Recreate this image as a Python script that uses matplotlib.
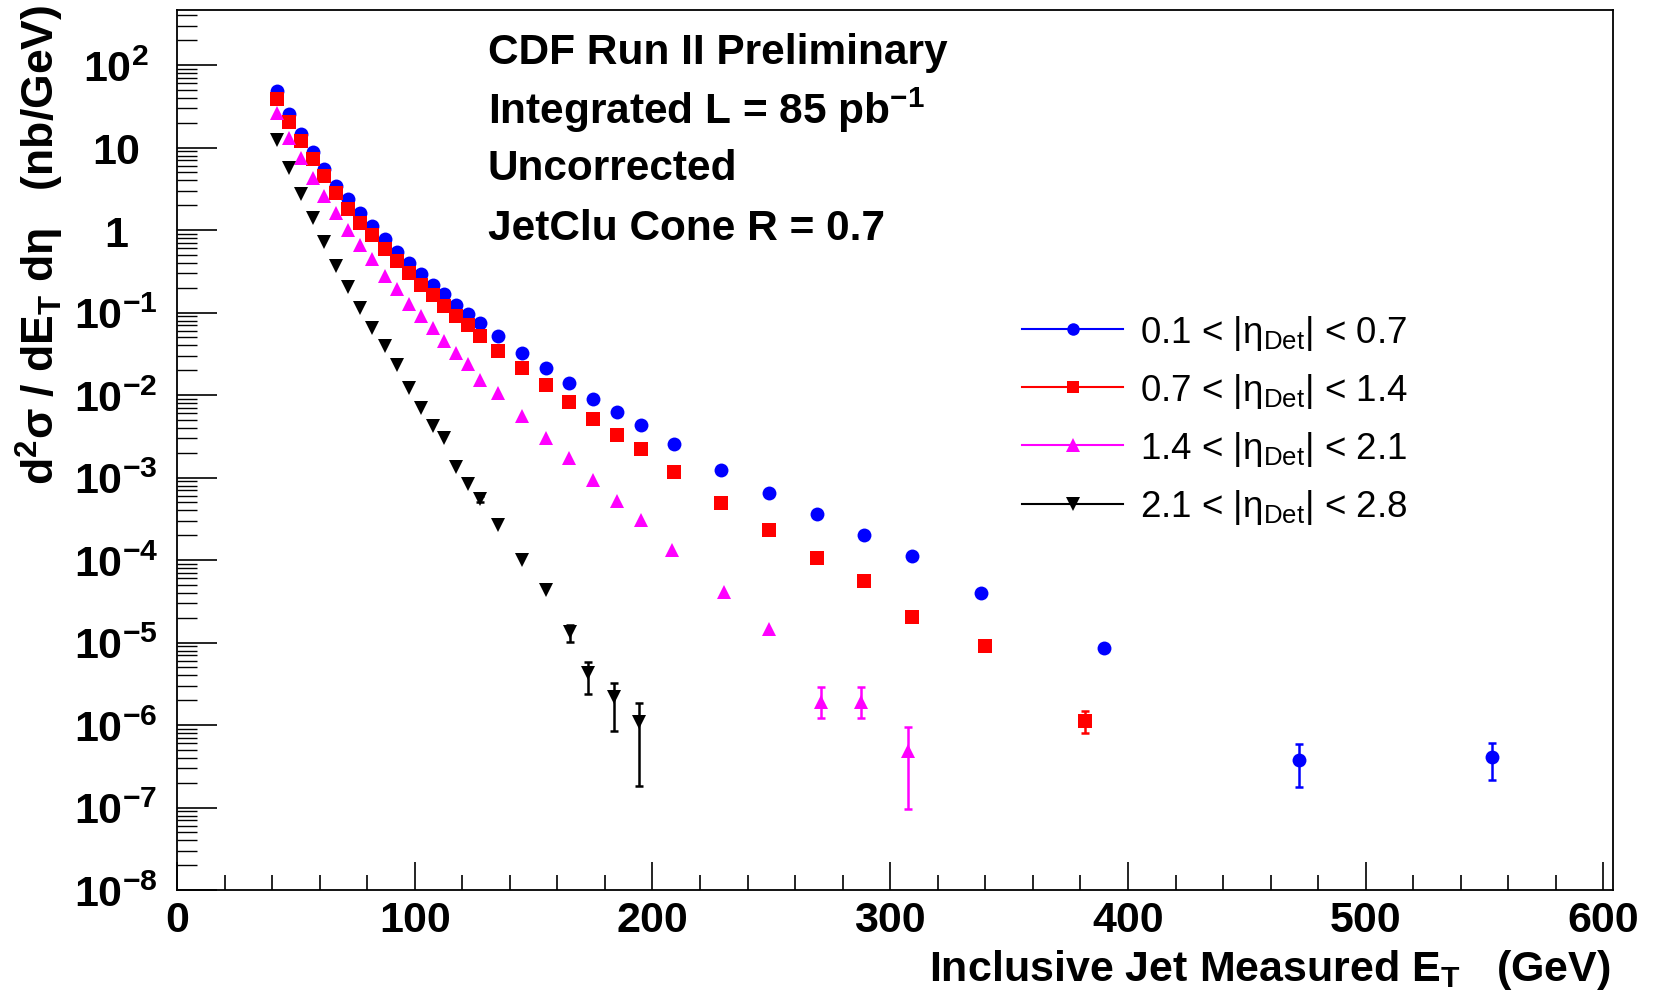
import numpy as np
import matplotlib
matplotlib.use("Agg")
import matplotlib.pyplot as plt
from matplotlib.lines import Line2D
from matplotlib.ticker import LogLocator, FixedLocator, FixedFormatter, MultipleLocator, NullFormatter

plt.rcParams['font.family'] = ['Liberation Sans', 'DejaVu Sans']
plt.rcParams['mathtext.fontset'] = 'custom'
plt.rcParams['mathtext.rm'] = 'Liberation Sans'
plt.rcParams['mathtext.it'] = 'Liberation Sans:italic'
plt.rcParams['mathtext.bf'] = 'Liberation Sans:bold'

# ---- data (E_T in GeV, cross section in nb/GeV) ----
et_low = [42, 47, 52, 57, 62, 67, 72, 77, 82, 87.5, 92.5, 97.5, 102.5, 107.5,
          112.5, 117.5, 122.5, 127.5, 135, 145, 155, 165, 175, 185, 195]

eta1_x = et_low + [209, 229, 249, 269, 289, 309, 338, 390, 472, 553]
eta1_y = [48, 25.4, 14.5, 8.85, 5.45, 3.41, 2.35, 1.59, 1.11, 0.769, 0.538, 0.40,
          0.294, 0.218, 0.168, 0.125, 0.097, 0.0748, 0.0524, 0.0328, 0.0212,
          0.0140, 0.00891, 0.00625, 0.00438, 0.00253, 0.00123, 6.53e-4, 3.57e-4,
          2.02e-4, 1.11e-4, 4.03e-5, 8.7e-6, 3.77e-7, 4.05e-7]

eta2_x = et_low + [209, 229, 249, 269, 289, 309, 340, 382]
eta2_y = [38.6, 20.7, 12.0, 7.21, 4.52, 2.84, 1.81, 1.23, 0.867, 0.593, 0.424,
          0.303, 0.218, 0.162, 0.121, 0.0917, 0.0699, 0.0524, 0.0344, 0.0212,
          0.0133, 0.0083, 0.00514, 0.00326, 0.0022, 0.00116, 4.94e-4, 2.34e-4,
          1.06e-4, 5.57e-5, 2.04e-5, 9.04e-6, 1.13e-6]

eta3_x = et_low + [208, 230, 249, 271, 287.5, 307.5]
eta3_y = [26.6, 13.2, 7.56, 4.32, 2.58, 1.62, 1.00, 0.656, 0.440, 0.281, 0.194,
          0.127, 0.0917, 0.065, 0.0456, 0.0323, 0.0237, 0.0153, 0.01054, 0.00558,
          0.00299, 0.00171, 9.33e-4, 5.18e-4, 3.1e-4, 1.34e-4, 4.09e-5, 1.47e-5,
          1.89e-6, 1.89e-6, 4.89e-7]

eta4_x = et_low[:21] + [165.5, 173, 184, 194.5]
eta4_y = [12.3, 5.71, 2.71, 1.41, 0.713, 0.364, 0.202, 0.114, 0.065, 0.0388,
          0.0233, 0.0123, 0.00693, 0.00423, 0.00299, 0.00135, 8.26e-4, 5.43e-4,
          2.65e-4, 9.95e-5, 4.38e-5, 1.34e-5, 4.25e-6, 2.17e-6, 1.08e-6]

# visible error bars: x, lower edge, upper edge
eta1_err = ([472, 553], [1.75e-7, 2.15e-7], [5.9e-7, 6.0e-7])
eta2_err = ([382], [8.1e-7], [1.48e-6])
eta3_err = ([271, 287.5, 307.5], [1.22e-6, 1.22e-6, 9.5e-8], [2.87e-6, 2.87e-6, 9.4e-7])
eta4_err = ([127.5, 165.5, 173, 184, 194.5], [5.0e-4, 1.01e-5, 2.39e-6, 8.5e-7, 1.84e-7],
            [5.9e-4, 1.61e-5, 5.78e-6, 3.2e-6, 1.86e-6])

labels = [r'0.1 < |η$_{\rm Det}$| < 0.7', r'0.7 < |η$_{\rm Det}$| < 1.4',
          r'1.4 < |η$_{\rm Det}$| < 2.1', r'2.1 < |η$_{\rm Det}$| < 2.8']
colors = ['#0000ff', '#ff0000', '#ff00ff', '#000000']
markers = ['o', 's', '^', 'v']
msizes = [10.0, 9.8, 10.5, 10.5]

fig = plt.figure(figsize=(16.53, 10.04), dpi=100)
ax = fig.add_axes([177 / 1653, 1 - 891 / 1004, (1613 - 177) / 1653, (891 - 10.5) / 1004])

series = [(eta1_x, eta1_y, eta1_err), (eta2_x, eta2_y, eta2_err),
          (eta3_x, eta3_y, eta3_err), (eta4_x, eta4_y, eta4_err)]
for (x, y, err), c, m, ms in zip(series, colors, markers, msizes):
    ex, elo, ehi = err
    ey = [y[x.index(v)] for v in ex]
    yerr = [np.array(ey) - np.array(elo), np.array(ehi) - np.array(ey)]
    ax.errorbar(ex, ey, yerr=yerr, fmt='none', ecolor=c, elinewidth=1.8,
                capsize=3, capthick=1.8, zorder=2)
    ax.plot(x, y, ls='none', marker=m, color=c, ms=ms, mew=0, zorder=3)

ax.set_yscale('log')
ax.set_xlim(0, 604)
ax.set_ylim(1e-8, 10 ** 2.674)

for s in ax.spines.values():
    s.set_linewidth(1.3)

# x axis ticks
ax.xaxis.set_major_locator(MultipleLocator(100))
ax.xaxis.set_minor_locator(MultipleLocator(20))
ax.tick_params(axis='x', which='major', direction='in', length=20, width=1.2,
               labelsize=31, pad=7, top=False)
ax.tick_params(axis='x', which='minor', direction='in', length=10.5, width=1.2, top=False)
for t in ax.get_xticklabels():
    t.set_fontweight('bold')

# y axis ticks
ydec = [1e2, 1e1, 1, 1e-1, 1e-2, 1e-3, 1e-4, 1e-5, 1e-6, 1e-7, 1e-8]
ylab = [r'$\mathbf{10^{2}}$', r'$\mathbf{10}$', r'$\mathbf{1}$', r'$\mathbf{10^{-1}}$',
        r'$\mathbf{10^{-2}}$', r'$\mathbf{10^{-3}}$', r'$\mathbf{10^{-4}}$',
        r'$\mathbf{10^{-5}}$', r'$\mathbf{10^{-6}}$', r'$\mathbf{10^{-7}}$',
        r'$\mathbf{10^{-8}}$']
ax.yaxis.set_major_locator(FixedLocator(ydec))
ax.yaxis.set_major_formatter(FixedFormatter(ylab))
ax.yaxis.set_minor_locator(LogLocator(base=10, subs=np.arange(2, 10), numticks=30))
ax.yaxis.set_minor_formatter(NullFormatter())
ax.tick_params(axis='y', which='major', direction='in', length=28.8, width=1.2,
               labelsize=31, pad=44, right=False)
ax.tick_params(axis='y', which='minor', direction='in', length=14.4, width=1.0, right=False)
for t in ax.get_yticklabels():
    t.set_horizontalalignment('center')

# axis titles
fig.text(1611 / 1653, 1 - 970 / 1004, r'Inclusive Jet Measured E$_{\mathbf{T}}$   (GeV)',
         ha='right', va='center', fontsize=31, fontweight='bold')
fig.text(40 / 1653, 1 - 5 / 1004,
         r'd$^{\mathbf{2}}$σ / dE$_{\mathbf{T}}$ dη   (nb/GeV)',
         rotation=90, ha='center', va='top', fontsize=32, fontweight='bold')

# info block
info = ['CDF Run II Preliminary', r'Integrated L = 85 pb$^{\mathbf{-1}}$',
        'Uncorrected', 'JetClu Cone R = 0.7']
info_y = [52.7, 110.7, 168.7, 228.8]
for txt, yy in zip(info, info_y):
    fig.text(488 / 1653, 1 - yy / 1004, txt, ha='left', va='center',
             fontsize=30.5, fontweight='bold')

# legend
handles = [Line2D([], [], color=c, marker=m, ms=ms * 0.9, mew=0, lw=1.5)
           for c, m, ms in zip(colors, markers, msizes)]
fig.legend(handles, labels, loc='upper left', bbox_to_anchor=(1022 / 1653, 1 - 314 / 1004),
           frameon=False, fontsize=26.5, handlelength=2.75, handletextpad=0.45,
           labelspacing=0.52, borderpad=0, borderaxespad=0)

fig.savefig('out.png', dpi=100)
